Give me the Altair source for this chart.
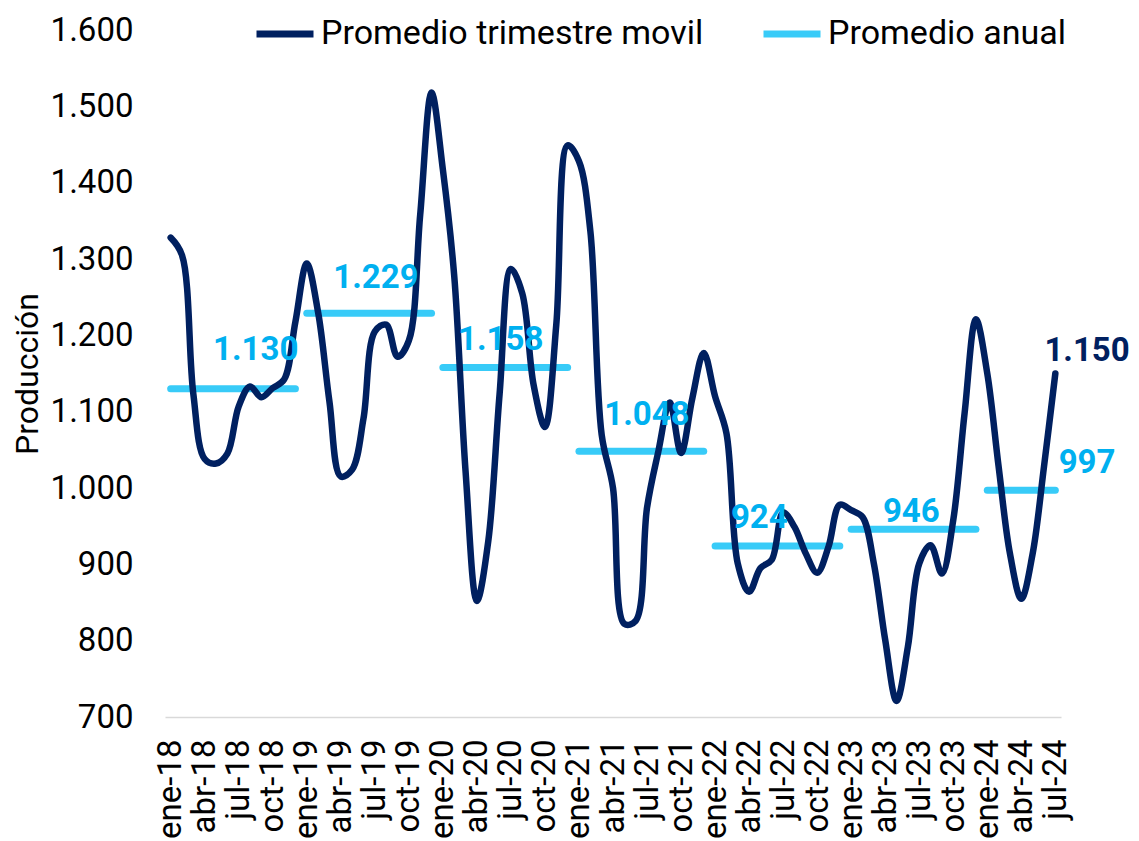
import altair as alt
import pandas as pd

# ---------------- data ----------------
meses = ["ene", "feb", "mar", "abr", "may", "jun", "jul", "ago", "sep", "oct", "nov", "dic"]

# Promedio trimestre móvil, ene-18 ... jul-24 (79 meses)
produccion = [
    1328, 1305, 1123, 1038, 1032, 1045, 1107, 1133, 1119, 1131, 1142, 1218,   # 2018
    1294, 1230, 1113, 1015, 1024, 1091, 1205, 1214, 1172, 1193, 1358, 1518,   # 2019
    1417, 1278, 1022, 852, 930, 1123, 1287, 1255, 1135, 1080, 1214, 1449,     # 2020
    1428, 1337, 1070, 1000, 822, 826, 974, 1048, 1112, 1046, 1118, 1177,      # 2021
    1120, 1072, 901, 864, 895, 906, 968, 949, 914, 889, 923, 978,             # 2022
    971, 962, 901, 801, 721, 792, 901, 925, 888, 958, 1098, 1221,             # 2023
    1150, 1028, 914, 855, 914, 1028, 1150,                                    # 2024
]

anios = [2018, 2019, 2020, 2021, 2022, 2023, 2024]
promedio_anual = [1130, 1229, 1158, 1048, 924, 946, 997]

# anchor of each annual label (month index, value units)
etiqueta_x = [7.5, 18.1, 29.1, 42.0, 51.9, 65.3, 80.8]
etiqueta_y = [1181, 1275, 1194, 1096, 961, 969, 1033]
final_x = [80.8]
final_y = [1180]

SERIE_T = "Promedio trimestre movil"
SERIE_A = "Promedio anual"


def fmt(v):
    return f"{v:,.0f}".replace(",", ".")


etiquetas_mes = [f"{meses[i % 12]}-{str(2018 + i // 12)[2:]}" for i in range(len(produccion))]
ticks_idx = list(range(0, len(produccion), 3))
ticks_txt = [etiquetas_mes[i] for i in ticks_idx]

df_t = pd.DataFrame({
    "idx": list(range(len(produccion))),
    "valor": produccion,
    "serie": SERIE_T,
})

rows = []
for a, v in zip(anios, promedio_anual):
    for i in range(len(produccion)):
        if 2018 + i // 12 == a:
            rows.append({"idx": i, "valor": v, "anio": str(a), "serie": SERIE_A})
df_a = pd.DataFrame(rows)

df_lab = pd.DataFrame({
    "x": etiqueta_x,
    "y": etiqueta_y,
    "txt": [fmt(v) for v in promedio_anual],
})
df_fin = pd.DataFrame({"x": final_x, "y": final_y, "txt": [fmt(produccion[-1])]})

# ---------------- styling ----------------
NAVY = "#002060"
CYAN = "#38CBF8"
CYAN_TXT = "#00B0F0"

arr = "[" + ",".join(f"'{t}'" for t in ticks_txt) + "]"

x_scale = alt.Scale(domain=[-0.5, len(produccion) - 0.5], nice=False, zero=False)
y_scale = alt.Scale(domain=[700, 1600], nice=False, zero=False)

x_axis = alt.Axis(
    values=ticks_idx,
    labelExpr=f"{arr}[round(datum.value/3)]",
    labelAngle=270,
    labelAlign="right",
    labelBaseline="middle",
    labelPadding=22,
    labelFontSize=33,
    labelColor="#000000",
    labelOverlap=False,
    labelBound=False,
    labelFlush=False,
    ticks=False,
    tickSize=0,
    grid=False,
    domainColor="#D9D9D9",
    domainWidth=1.5,
    title=None,
)

y_axis = alt.Axis(
    values=list(range(700, 1601, 100)),
    labelExpr="replace(format(datum.value, ',d'), ',', '.')",
    labelFontSize=33,
    labelColor="#000000",
    labelPadding=32,
    labelOverlap=False,
    domain=False,
    ticks=False,
    grid=False,
    title="Producción",
    titleFontSize=32,
    titleFontWeight="normal",
    titleColor="#000000",
    titleAngle=270,
    titleAlign="center",
    titleBaseline="alphabetic",
    titleX=-128,
    titleY=343.5,
)

color = alt.Color(
    "serie:N",
    scale=alt.Scale(domain=[SERIE_T, SERIE_A], range=[NAVY, CYAN]),
    legend=alt.Legend(
        orient="none",
        legendX=88,
        legendY=-28,
        direction="horizontal",
        title=None,
        symbolType="stroke",
        symbolSize=3249,
        symbolStrokeWidth=7,
        labelFontSize=34,
        labelColor="#000000",
        labelOffset=4,
        labelLimit=0,
        columnPadding=45,
    ),
)

X = lambda f: alt.X(f, scale=x_scale, axis=x_axis)
Y = lambda f: alt.Y(f, scale=y_scale, axis=y_axis)

anual = alt.Chart(df_a).mark_line(strokeWidth=7, strokeCap="round").encode(
    x=X("idx:Q"),
    y=Y("valor:Q"),
    color=color,
    detail="anio:N",
)

trim = alt.Chart(df_t).mark_line(
    strokeWidth=6.5, strokeCap="round", strokeJoin="round", interpolate="catmull-rom"
).encode(
    x=X("idx:Q"),
    y=Y("valor:Q"),
    color=color,
)

lab = alt.Chart(df_lab).mark_text(
    fontSize=33, fontWeight="bold", color=CYAN_TXT, align="center", baseline="middle"
).encode(
    x=X("x:Q"),
    y=Y("y:Q"),
    text="txt:N",
)

fin = alt.Chart(df_fin).mark_text(
    fontSize=33, fontWeight="bold", color=NAVY, align="center", baseline="middle"
).encode(
    x=X("x:Q"),
    y=Y("y:Q"),
    text="txt:N",
)

chart = alt.layer(anual, trim, lab, fin).properties(
    width=896,
    height=687,
    autosize=alt.AutoSizeParams(type="none"),
    padding={"left": 157, "top": 22, "right": 70, "bottom": 124},
).configure(font="Roboto").configure_view(stroke=None).configure_axisX(labelOverlap=False)

chart.save("out.html", embed_options={"renderer": "svg", "actions": False})
